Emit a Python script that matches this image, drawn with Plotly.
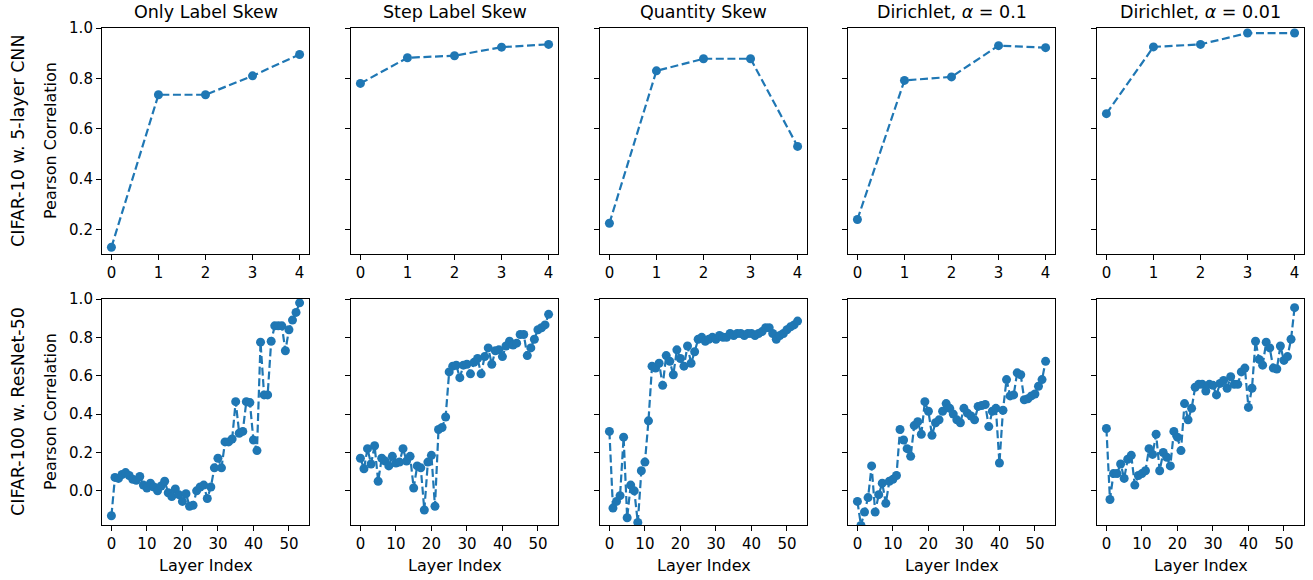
import plotly.graph_objects as go

# ---- data -------------------------------------------------------------
col_titles = ["Only Label Skew", "Step Label Skew", "Quantity Skew",
              "Dirichlet, <i>α</i> = 0.1", "Dirichlet, <i>α</i> = 0.01"]
row_labels = ["CIFAR-10 w. 5-layer CNN", "CIFAR-100 w. ResNet-50"]

cnn_layers = [0, 1, 2, 3, 4]
cnn_only_label = [0.13, 0.735, 0.735, 0.81, 0.895]
cnn_step_label = [0.78, 0.882, 0.89, 0.924, 0.935]
cnn_quantity = [0.225, 0.83, 0.878, 0.878, 0.53]
cnn_dir_01 = [0.24, 0.792, 0.806, 0.93, 0.922]
cnn_dir_001 = [0.66, 0.925, 0.935, 0.98, 0.98]

resnet_layers = list(range(54))
resnet_only_label = [
    -0.13, 0.07, 0.065, 0.085, 0.095, 0.08, 0.06, 0.055, 0.075, 0.03,
    0.015, 0.04, 0.02, 0.0, 0.025, 0.05, -0.01, -0.03, 0.01, -0.02,
    -0.055, -0.015, -0.08, -0.075, 0.0, 0.02, 0.03, -0.04, 0.02, 0.12,
    0.17, 0.12, 0.255, 0.255, 0.27, 0.465, 0.30, 0.31, 0.465, 0.46,
    0.265, 0.21, 0.775, 0.50, 0.50, 0.78, 0.86, 0.86, 0.86, 0.73,
    0.84, 0.89, 0.93, 0.98]
resnet_step_label = [
    0.17, 0.115, 0.22, 0.14, 0.235, 0.05, 0.17, 0.155, 0.13, 0.18,
    0.145, 0.15, 0.22, 0.155, 0.18, 0.015, 0.13, 0.12, -0.10, 0.15,
    0.185, -0.08, 0.32, 0.33, 0.385, 0.62, 0.65, 0.655, 0.59, 0.655,
    0.66, 0.61, 0.67, 0.69, 0.61, 0.70, 0.745, 0.66, 0.73, 0.735,
    0.70, 0.755, 0.78, 0.76, 0.77, 0.815, 0.815, 0.705, 0.745, 0.79,
    0.84, 0.85, 0.865, 0.92]
resnet_quantity = [
    0.31, -0.09, -0.055, -0.025, 0.28, -0.14, 0.03, 0.0, -0.165, 0.105,
    0.15, 0.365, 0.65, 0.64, 0.665, 0.55, 0.705, 0.675, 0.605, 0.735,
    0.69, 0.65, 0.755, 0.665, 0.725, 0.79, 0.80, 0.78, 0.79, 0.80,
    0.79, 0.81, 0.80, 0.80, 0.82, 0.81, 0.82, 0.82, 0.81, 0.82,
    0.82, 0.81, 0.82, 0.83, 0.85, 0.85, 0.82, 0.79, 0.81, 0.82,
    0.84, 0.855, 0.865, 0.885]
resnet_dir_01 = [
    -0.055, -0.18, -0.11, -0.035, 0.13, -0.11, -0.02, 0.04, -0.065, 0.05,
    0.06, 0.08, 0.32, 0.265, 0.22, 0.18, 0.34, 0.36, 0.295, 0.465,
    0.415, 0.29, 0.355, 0.37, 0.415, 0.455, 0.43, 0.40, 0.37, 0.355,
    0.43, 0.405, 0.39, 0.37, 0.44, 0.445, 0.45, 0.335, 0.415, 0.43,
    0.145, 0.42, 0.58, 0.495, 0.50, 0.615, 0.605, 0.475, 0.48, 0.495,
    0.505, 0.545, 0.58, 0.675]
resnet_dir_001 = [
    0.325, -0.045, 0.09, 0.09, 0.14, 0.065, 0.165, 0.185, 0.03, 0.08,
    0.09, 0.105, 0.22, 0.19, 0.295, 0.105, 0.20, 0.175, 0.13, 0.31,
    0.28, 0.21, 0.455, 0.37, 0.43, 0.54, 0.555, 0.555, 0.52, 0.555,
    0.55, 0.50, 0.56, 0.575, 0.535, 0.595, 0.555, 0.555, 0.62, 0.64,
    0.435, 0.535, 0.78, 0.685, 0.655, 0.775, 0.745, 0.64, 0.635, 0.755,
    0.68, 0.70, 0.79, 0.955]

cnn_series = [cnn_only_label, cnn_step_label, cnn_quantity, cnn_dir_01, cnn_dir_001]
resnet_series = [resnet_only_label, resnet_step_label, resnet_quantity,
                 resnet_dir_01, resnet_dir_001]

# ---- layout geometry (pixels) ----------------------------------------
W, H = 1313, 580
col_left = [102, 351, 600, 848, 1097]
col_width = 207
row_top = [28, 299]
row_height = 226

BLUE = "#1f77b4"
FONT = "DejaVu Sans"

fig = go.Figure()
layout = dict(
    width=W, height=H,
    margin=dict(l=0, r=0, t=0, b=0, autoexpand=False),
    paper_bgcolor="white", plot_bgcolor="white",
    showlegend=False,
    font=dict(family=FONT, size=15, color="black"),
)

annotations = []

for r in range(2):
    for c in range(5):
        k = r * 5 + c + 1
        xs = cnn_layers if r == 0 else resnet_layers
        ys = cnn_series[c] if r == 0 else resnet_series[c]
        xa = "x" if k == 1 else f"x{k}"
        ya = "y" if k == 1 else f"y{k}"
        fig.add_trace(go.Scatter(
            x=xs, y=ys, mode="lines+markers",
            line=dict(color=BLUE, width=2.2, dash="8px,3.6px"),
            marker=dict(color=BLUE, size=9),
            xaxis=xa, yaxis=ya, cliponaxis=True,
        ))
        x0 = col_left[c] / W
        x1 = (col_left[c] + col_width) / W
        y1 = 1 - row_top[r] / H
        y0 = 1 - (row_top[r] + row_height) / H
        common = dict(
            showline=True, mirror=True, linecolor="black", linewidth=1.1,
            ticks="outside", ticklen=5, tickwidth=1.1, tickcolor="black",
            showgrid=False, zeroline=False, automargin=False,
            tickfont=dict(family=FONT, size=15, color="black"),
        )
        if r == 0:
            xaxis = dict(domain=[x0, x1], range=[-0.2, 4.2],
                         tickvals=[0, 1, 2, 3, 4], anchor=ya, **common)
            yaxis = dict(domain=[y0, y1], range=[0.103, 1.0],
                         tickvals=[0.2, 0.4, 0.6, 0.8, 1.0],
                         ticktext=["0.2", "0.4", "0.6", "0.8", "1.0"],
                         showticklabels=(c == 0), anchor=xa, **common)
        else:
            xaxis = dict(domain=[x0, x1], range=[-2.65, 55.65],
                         tickvals=[0, 10, 20, 30, 40, 50], anchor=ya, **common)
            yaxis = dict(domain=[y0, y1], range=[-0.178, 1.0],
                         tickvals=[0.0, 0.2, 0.4, 0.6, 0.8, 1.0],
                         ticktext=["0.0", "0.2", "0.4", "0.6", "0.8", "1.0"],
                         showticklabels=(c == 0), anchor=xa, **common)
        layout["xaxis" if k == 1 else f"xaxis{k}"] = xaxis
        layout["yaxis" if k == 1 else f"yaxis{k}"] = yaxis

# column titles
for c, title in enumerate(col_titles):
    annotations.append(dict(
        text=title, xref="paper", yref="paper",
        x=(col_left[c] + col_width / 2) / W, y=1 - 12 / H,
        xanchor="center", yanchor="middle", showarrow=False,
        font=dict(family=FONT, size=17.5, color="black"),
    ))

# x axis titles under bottom row
for c in range(5):
    annotations.append(dict(
        text="Layer Index", xref="paper", yref="paper",
        x=(col_left[c] + col_width / 2) / W, y=1 - 565 / H,
        xanchor="center", yanchor="middle", showarrow=False,
        font=dict(family=FONT, size=16, color="black"),
    ))

# y axis titles and row labels
for r in range(2):
    yc = 1 - (row_top[r] + row_height / 2) / H
    annotations.append(dict(
        text="Pearson Correlation", xref="paper", yref="paper",
        x=50 / W, y=yc, xanchor="center", yanchor="middle",
        textangle=-90, showarrow=False,
        font=dict(family=FONT, size=16, color="black"),
    ))
    annotations.append(dict(
        text=row_labels[r], xref="paper", yref="paper",
        x=18 / W, y=yc, xanchor="center", yanchor="middle",
        textangle=-90, showarrow=False,
        font=dict(family=FONT, size=17.5, color="black"),
    ))

layout["annotations"] = annotations
fig.update_layout(**layout)
fig.write_html(
    "out.html",
    post_script="document.body.style.margin='0';document.body.style.padding='0';",
)
